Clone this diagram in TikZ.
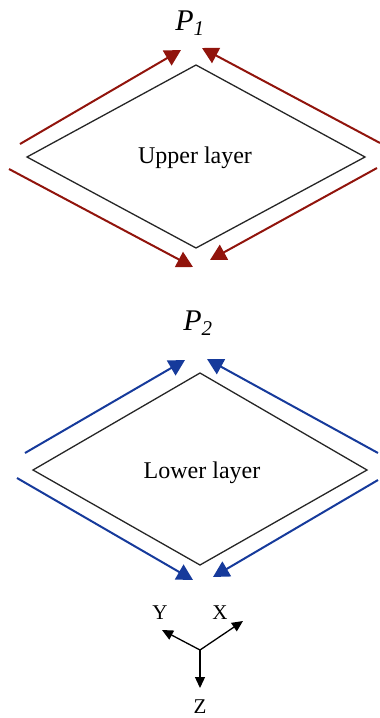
\documentclass[tikz,border=0pt]{standalone}
\usepackage{fontspec}
\setmainfont{Liberation Serif}
\usetikzlibrary{arrows.meta}
\definecolor{dred}{RGB}{145,20,12}
\definecolor{dblue}{RGB}{22,58,155}
\tikzset{
  layer/.style={draw=black!85,line width=1.3pt,line join=miter},
  flow/.style={line width=2pt,-{Triangle[length=16pt,width=17pt]}},
  axis/.style={line width=1.3pt,-{Triangle[length=11pt,width=10pt]}},
  lbl/.style={font=\fontsize{24}{26}\selectfont,inner sep=0pt},
  plbl/.style={font=\fontsize{30}{32}\selectfont\itshape,inner sep=0pt},
  albl/.style={font=\fontsize{21}{23}\selectfont,inner sep=0pt}
}
\begin{document}
\begin{tikzpicture}[x=1pt,y=-1pt]
\useasboundingbox (0,0) rectangle (380,718);
% upper layer
\coordinate (ut) at (196,65);
\coordinate (ul) at (27,157);
\coordinate (ur) at (365,157);
\coordinate (ub) at (196,248);
\draw[layer] (ut) -- (ur) -- (ub) -- (ul) -- cycle;
\node[lbl] (utext) at (195,158) {Upper layer};
\node[plbl] (p1) at (190,23) {P\textsubscript{1}};
\coordinate (a1s) at (20,144);  \coordinate (a1e) at (181,50);
\coordinate (a2s) at (380,143); \coordinate (a2e) at (202,48);
\coordinate (a3s) at (9,169);   \coordinate (a3e) at (193,267);
\coordinate (a4s) at (377,168); \coordinate (a4e) at (210,260);
\draw[flow,dred] (a1s) -- (a1e);
\draw[flow,dred] (a2s) -- (a2e);
\draw[flow,dred] (a3s) -- (a3e);
\draw[flow,dred] (a4s) -- (a4e);
% lower layer
\coordinate (lt) at (200,373);
\coordinate (ll) at (33,470);
\coordinate (lr) at (367,470);
\coordinate (lb) at (200,565);
\draw[layer] (lt) -- (lr) -- (lb) -- (ll) -- cycle;
\node[lbl] (ltext) at (202,473) {Lower layer};
\node[plbl] (p2) at (198,323) {P\textsubscript{2}};
\coordinate (b1s) at (25,453);  \coordinate (b1e) at (185,360);
\coordinate (b2s) at (378,453); \coordinate (b2e) at (207,359);
\coordinate (b3s) at (17,478);  \coordinate (b3e) at (193,580);
\coordinate (b4s) at (378,480); \coordinate (b4e) at (213,577);
\draw[flow,dblue] (b1s) -- (b1e);
\draw[flow,dblue] (b2s) -- (b2e);
\draw[flow,dblue] (b3s) -- (b3e);
\draw[flow,dblue] (b4s) -- (b4e);
% axes
\coordinate (o) at (200,650);
\coordinate (yt) at (162,630);
\coordinate (xt) at (243,621);
\coordinate (zt) at (200,688);
\draw[axis] (o) -- (yt);
\draw[axis] (o) -- (xt);
\draw[axis] (o) -- (zt);
\node[albl] (ylab) at (160,613) {Y};
\node[albl] (xlab) at (220,613) {X};
\node[albl] (zlab) at (200,707) {Z};
\end{tikzpicture}
\end{document}
